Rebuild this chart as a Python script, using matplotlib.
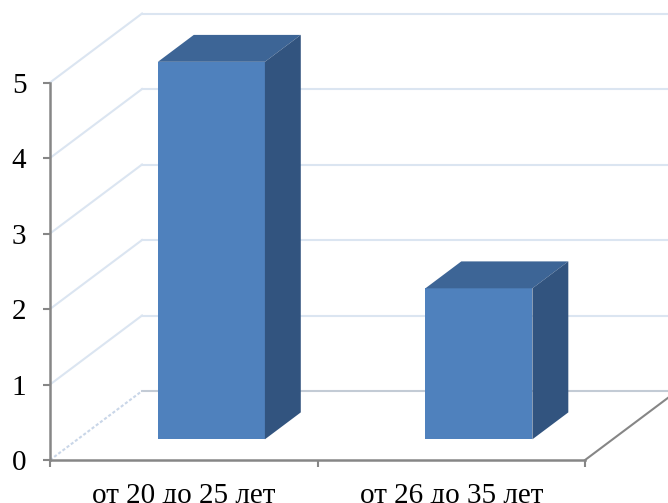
import numpy as np
import matplotlib.pyplot as plt
from matplotlib.patches import Polygon

plt.rcParams['font.family'] = ['Liberation Serif', 'DejaVu Serif']

# === Data ===
categories = ["от 20 до 25 лет", "от 26 до 35 лет"]
values = [5, 2]
yticks = [0, 1, 2, 3, 4, 5]

# oblique depth of the box, in data units (x per category, y per value)
DX, DY = 0.344, 0.914
bar_z0, bar_dz = 0.30, 0.39   # front position and depth of the bars
bar_w = 0.40

front_col = "#4f81bd"
top_col = "#3d6596"
side_col = "#32547f"
grid_col = "#dbe5f1"
axis_col = "#868686"

fig = plt.figure(figsize=(6.68, 5.03), dpi=100)
ax = fig.add_axes([0, 0, 1, 1])
ax.set_xlim(-0.687, 1.810)
ax.set_ylim(-0.5695, 6.093)
ax.patch.set_visible(False)

# back wall gridlines and left wall diagonals
for v in yticks:
    col = "#c3cbd5" if v == 0 else grid_col
    ax.plot([-0.5 + DX, 2.2], [v + DY, v + DY], color=col, lw=1.5, zorder=1)
    ls = (0, (1.5, 1)) if v == 0 else "-"
    lc = "#c9d6e8" if v == 0 else grid_col
    ax.plot([-0.5, -0.5 + DX], [v, v + DY], color=lc, lw=1.5, ls=ls, zorder=1)

# right floor edge
ax.plot([1.5, 1.5 + DX], [0, DY], color=axis_col, lw=1.5, zorder=2)

# bars: front face through ax.bar, top and side as polygons
xs = np.arange(len(values)) + DX * bar_z0
y0 = DY * bar_z0
ax.bar(xs, values, width=bar_w, bottom=y0, color=front_col, zorder=3)
for x, v in zip(xs, values):
    l, r = x - bar_w / 2, x + bar_w / 2
    t = y0 + v
    ddx, ddy = DX * bar_dz, DY * bar_dz
    ax.add_patch(Polygon([(l, t), (r, t), (r + ddx, t + ddy), (l + ddx, t + ddy)],
                         closed=True, facecolor=top_col, edgecolor="none", zorder=3))
    ax.add_patch(Polygon([(r, y0), (r + ddx, y0 + ddy), (r + ddx, t + ddy), (r, t)],
                         closed=True, facecolor=side_col, edgecolor="none", zorder=3))

# axes
for s in ["top", "right"]:
    ax.spines[s].set_visible(False)
ax.spines["left"].set_position(("data", -0.5))
ax.spines["left"].set_bounds(0, 5)
ax.spines["bottom"].set_position(("data", 0))
ax.spines["bottom"].set_bounds(-0.5, 1.5)
for s in ["left", "bottom"]:
    ax.spines[s].set_color(axis_col)
    ax.spines[s].set_linewidth(1.8)
    ax.spines[s].set_zorder(4)

ax.set_yticks(yticks)
ax.set_yticklabels([str(t) for t in yticks])
ax.tick_params(axis="y", direction="out", length=5, width=1.5, color=axis_col,
               labelsize=21, pad=12)

ax.set_xticks([-0.5, 0.5, 1.5])
ax.set_xticklabels([])
ax.set_xticks([0, 1], minor=True)
ax.set_xticklabels(categories, minor=True)
ax.tick_params(axis="x", which="major", direction="out", length=5, width=1.5, color=axis_col)
ax.tick_params(axis="x", which="minor", length=0, labelsize=21, pad=16)

fig.savefig("out.png", dpi=100)
